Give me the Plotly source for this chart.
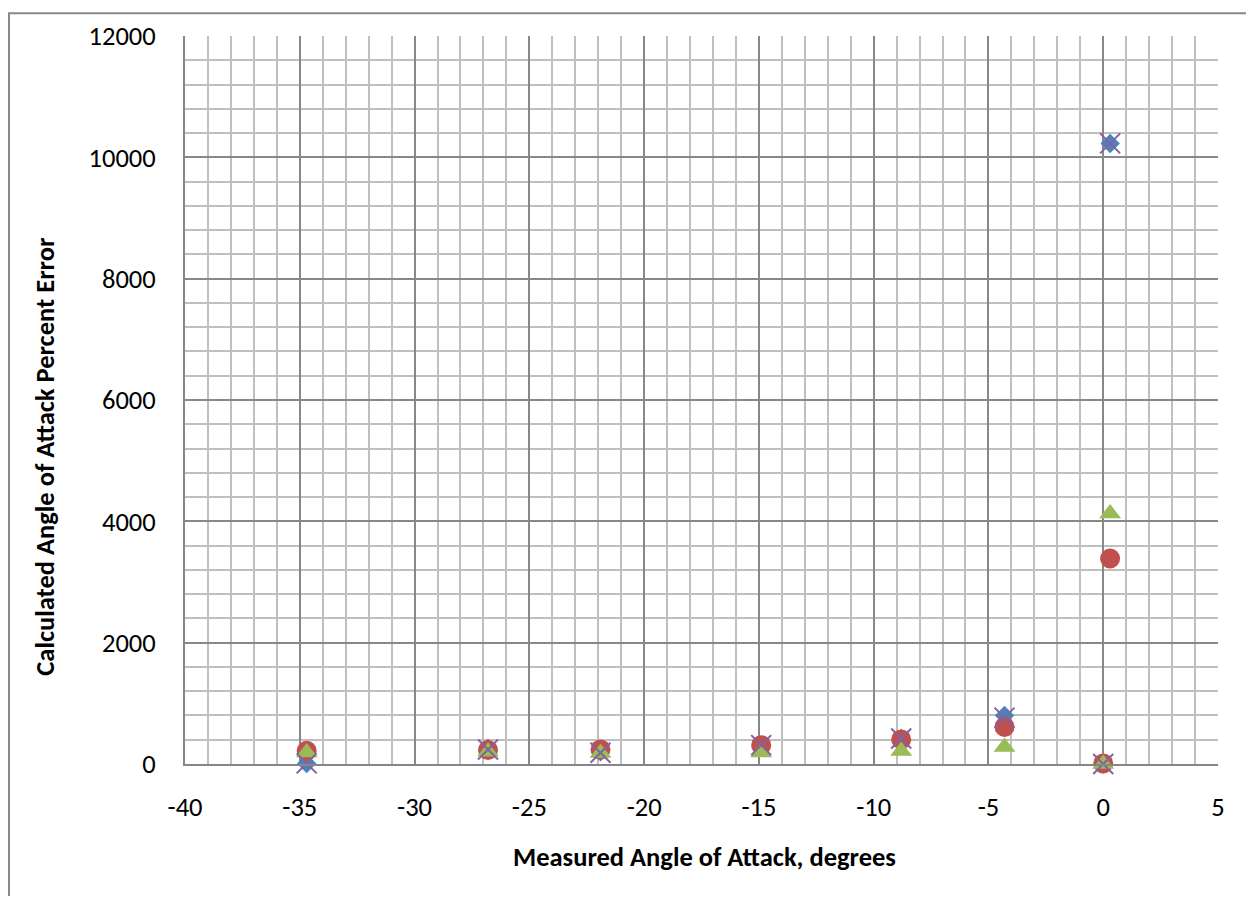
import plotly.graph_objects as go

x_vals = [-34.7, -26.8, -21.9, -14.9, -8.8, -4.3, 0.0, 0.3]
series_blue = [10, 260, 200, 300, 420, 800, 0, 10230]
series_red = [218, 230, 240, 311, 405, 611, 10, 3388]
series_green = [190, 200, 180, 190, 216, 279, 0, 4130]
series_purple = [10, 240, 185, 311, 420, 765, 0, 10230]

x_ticks = [-40, -35, -30, -25, -20, -15, -10, -5, 0, 5]
y_ticks = [0, 2000, 4000, 6000, 8000, 10000, 12000]

FONT = "Carlito, Calibri, Lato, sans-serif"
FS = 26.5

# page offset of 8px (default body margin); keep page within the window
OX, OY = 8, 8
W, H = 1254 - 2 * OX, 904 - 2 * OY
L, T = 185 - OX, 32 - OY
PW, PH = 1033, 732

fig = go.Figure()
fig.add_trace(go.Scatter(x=x_vals, y=series_blue, mode="markers", cliponaxis=False,
                         marker=dict(symbol="diamond", size=15, color="#4F81BD")))
fig.add_trace(go.Scatter(x=x_vals, y=series_red, mode="markers", cliponaxis=False,
                         marker=dict(symbol="circle", size=20, color="#C0504D")))
fig.add_trace(go.Scatter(x=x_vals, y=series_green, mode="markers", cliponaxis=False,
                         marker=dict(symbol="triangle-up", size=19, color="#9BBB59")))
fig.add_trace(go.Scatter(x=x_vals, y=series_purple, mode="markers", cliponaxis=False,
                         marker=dict(symbol="x-thin", size=20, color="#8064A2",
                                     line=dict(width=2, color="#8064A2"))))


def px(xp):
    # absolute page pixel -> paper coordinate
    return (xp - OX - L) / PW


def py(yp):
    return (T + PH - (yp - OY)) / PH


fig.update_layout(
    width=W, height=H,
    margin=dict(l=L, r=W - L - PW, t=T, b=H - T - PH),
    paper_bgcolor="white", plot_bgcolor="white",
    showlegend=False,
    font=dict(family=FONT, size=FS, color="black"),
    xaxis=dict(range=[-40, 5], tickvals=x_ticks, ticktext=[str(v) for v in x_ticks],
               showgrid=True, gridcolor="#888888", gridwidth=1.5,
               minor=dict(dtick=1, showgrid=True, gridcolor="#BFBFBF", gridwidth=1.5),
               showline=True, linecolor="#868686", linewidth=2,
               zeroline=False, ticks="", ticklabelstandoff=18,
               tickfont=dict(family=FONT, size=FS, color="black")),
    yaxis=dict(range=[0, 12000], tickvals=y_ticks, ticktext=[str(v) for v in y_ticks],
               showgrid=True, gridcolor="#888888", gridwidth=1.5,
               minor=dict(dtick=400, showgrid=True, gridcolor="#BFBFBF", gridwidth=1.5),
               showline=True, linecolor="#868686", linewidth=2,
               zeroline=False, ticks="", ticklabelstandoff=22,
               tickfont=dict(family=FONT, size=FS, color="black")),
    shapes=[dict(type="rect", xref="paper", yref="paper",
                 x0=px(9), x1=px(1300), y0=py(950), y1=py(9),
                 line=dict(color="#888888", width=2), layer="below")],
    annotations=[
        dict(text="<b>Measured Angle of Attack, degrees</b>", xref="paper", yref="paper",
             x=px(704), y=py(858), showarrow=False,
             xanchor="center", yanchor="middle",
             font=dict(family=FONT, size=FS, color="black")),
        dict(text="<b>Calculated Angle of Attack Percent Error</b>", xref="paper", yref="paper",
             x=px(45), y=py(455), showarrow=False, textangle=-90,
             xanchor="center", yanchor="middle",
             font=dict(family=FONT, size=FS, color="black")),
    ],
)

fig.write_html("out.html")
